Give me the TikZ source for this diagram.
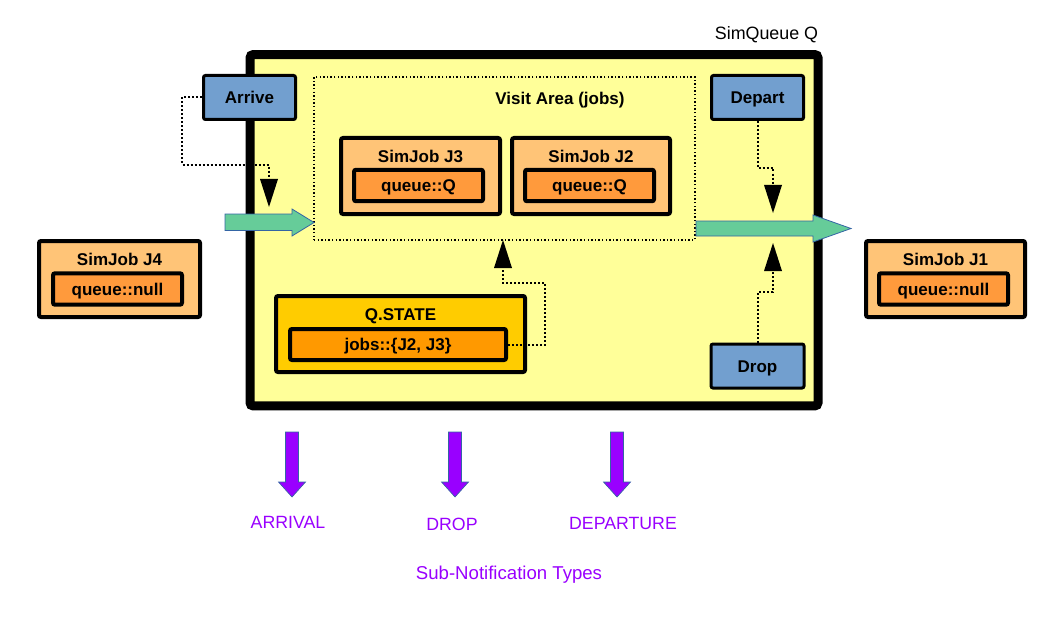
\documentclass[tikz,border=0pt]{standalone}
\usepackage{fontspec}
\setmainfont{Liberation Sans}
\usetikzlibrary{arrows.meta}
\definecolor{qyellow}{HTML}{FFFF99}
\definecolor{qblue}{HTML}{729FCF}
\definecolor{jlight}{HTML}{FFC477}
\definecolor{jdark}{HTML}{FF9A3C}
\definecolor{sgold}{HTML}{FFCC00}
\definecolor{sorange}{HTML}{FF9900}
\definecolor{agreen}{HTML}{66CC99}
\definecolor{aedge}{HTML}{3465A4}
\definecolor{apurple}{HTML}{9900FF}
\begin{document}
\begin{tikzpicture}[x=0.75pt,y=-0.75pt,
  font=\fontsize{13.4}{16}\selectfont,
  box/.style={draw=black, rounded corners=1.5pt, inner sep=0pt, text height=9.13pt, text depth=0pt,
    font=\fontsize{12.75}{15}\selectfont\bfseries},
  bluebox/.style={box, fill=qblue, line width=2.25pt, minimum width=69pt, minimum height=33pt},
  jobouter/.style={box, fill=jlight, line width=3pt, minimum width=119.25pt, minimum height=57pt},
  jobinner/.style={box, fill=jdark, line width=3pt, minimum width=96.75pt, minimum height=23.6pt},
  title/.style={inner sep=0pt, text height=9.13pt, text depth=0pt, font=\fontsize{12.75}{15}\selectfont\bfseries},
  conn/.style={draw=black, line width=1.5pt, dash pattern=on 1.5pt off 1.5pt,
    -{Triangle[length=21pt,width=13.5pt,line width=0pt]}},
  greenarrow/.style={fill=agreen, draw=aedge, line width=0.6pt},
  purplearrow/.style={fill=apurple, draw=aedge, line width=0.5pt},
  plabel/.style={inner sep=0pt, anchor=base, text=apurple, font=\fontsize{13.3}{16}\selectfont}
]
\useasboundingbox (0,0) rectangle (1056,624);

% main SimQueue box
\node[draw=black, fill=qyellow, line width=6.75pt, rounded corners=2.5pt,
  minimum width=426pt, minimum height=263.6pt, inner sep=0pt] (main) at (534,230.25) {};
\node[inner sep=0pt, anchor=base] (mainlabel) at (766.5,40) {SimQueue Q};

% visit area
\node[draw=black, line width=1.1pt, dash pattern=on 1.1pt off 1.6pt,
  minimum width=285.75pt, minimum height=122.25pt, inner sep=0pt] (visit) at (504.5,158.5) {};
\node[title] (visitlabel) at (560,98) {Visit Area (jobs)};

% green flow arrows
\path[greenarrow] (225,214) -- (292,214) -- (292,209) -- (314,222.5) -- (292,236)
  -- (292,230.5) -- (225,230.5) -- cycle;
\path[greenarrow] (696,221) -- (813,221) -- (813,215) -- (851,228.5) -- (813,242)
  -- (813,236) -- (696,236) -- cycle;

% control boxes
\node[bluebox] (arrive) at (249.5,97.5) {Arrive};
\node[bluebox] (depart) at (757.5,97.5) {Depart};
\node[bluebox, minimum width=69.75pt] (drop) at (757.5,366) {Drop};

% jobs in visit area
\node[jobouter] (j3) at (420.5,176) {};
\node[title] (j3t) at (420.5,156) {SimJob J3};
\node[jobinner] (j3i) at (418.5,185.5) {queue::Q};

\node[jobouter, minimum width=118.5pt] (j2) at (591,176) {};
\node[title] (j2t) at (591,156) {SimJob J2};
\node[jobinner] (j2i) at (589.5,185.5) {queue::Q};

% outside jobs
\node[jobouter, minimum width=120.75pt] (j4) at (119.5,279) {};
\node[title] (j4t) at (119.5,259) {SimJob J4};
\node[jobinner] (j4i) at (117.5,289) {queue::null};

\node[jobouter] (j1) at (945.5,279) {};
\node[title] (j1t) at (945.5,259) {SimJob J1};
\node[jobinner] (j1i) at (943.5,289) {queue::null};

% queue state
\node[box, fill=sgold, line width=3pt, minimum width=186.75pt, minimum height=57pt] (qs) at (400.5,334) {};
\node[title] (qst) at (400.5,314) {Q.STATE};
\node[box, fill=sorange, line width=3pt, minimum width=162pt, minimum height=23.25pt] (jobs) at (398,344.5) {jobs::\{J2, J3\}};

% dotted connectors
\coordinate (tipA) at (269,207);
\coordinate (tipS) at (503,240);
\coordinate (tipD) at (773,213);
\coordinate (tipP) at (773,243);
\draw[conn] (arrive.west) -- (182,97.5) -- (182,165) -| (tipA);
\draw[conn] (jobs.east) -- (545,344.5) -- (545,283) -| (tipS);
\draw[conn] (depart.south) -- (757.5,168) -| (tipD);
\draw[conn] (drop.north) -- (757.5,292) -| (tipP);

% sub-notification arrows
\foreach \cx/\nm in {292/pa, 455/pb, 617/pc}{
  \path[purplearrow] (\cx-6.5,432) -- (\cx+6.5,432) -- (\cx+6.5,482) -- (\cx+13.5,482)
    -- (\cx,497) -- (\cx-13.5,482) -- (\cx-6.5,482) -- cycle;
}
\node[plabel] (arrival) at (288,528) {ARRIVAL};
\node[plabel] (droplabel) at (452,530) {DROP};
\node[plabel] (departure) at (623,529) {DEPARTURE};
\node[plabel, font=\fontsize{13.95}{16}\selectfont] (subtypes) at (509,579) {Sub-Notification Types};
\end{tikzpicture}
\end{document}
